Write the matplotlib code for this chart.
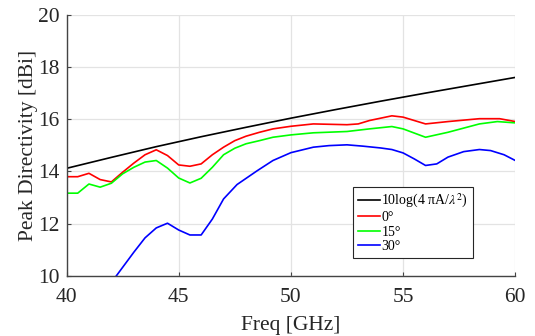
import numpy as np
import matplotlib
matplotlib.use("Agg")
import matplotlib.pyplot as plt

plt.rcParams['font.family'] = ['Liberation Serif', 'DejaVu Serif']
plt.rcParams['mathtext.fontset'] = 'stix'

# 10log(4 pi A / lambda^2) reference
freq_ref = [40, 42, 44, 46, 48, 50, 52, 54, 56, 58, 60]
dir_ref = [14.12, 14.54, 14.95, 15.33, 15.69, 16.04, 16.37, 16.69, 17.0, 17.3, 17.6]

# 0 deg
freq_0 = [40, 40.5, 41, 41.5, 42, 42.5, 43, 43.5, 44, 44.5, 45, 45.5, 46, 46.5, 47,
          47.5, 48, 48.6, 49.2, 50, 51, 52.5, 53, 53.5, 54.5, 55, 56, 57, 58.4, 59.3, 60]
dir_0 = [13.80, 13.80, 13.93, 13.69, 13.60, 13.97, 14.32, 14.64, 14.83, 14.61, 14.25,
         14.20, 14.29, 14.64, 14.93, 15.18, 15.35, 15.50, 15.63, 15.73, 15.82, 15.79,
         15.82, 15.95, 16.13, 16.08, 15.82, 15.91, 16.02, 16.02, 15.91]

# 15 deg
freq_15 = [40, 40.5, 41, 41.5, 42, 42.5, 43, 43.5, 44, 44.5, 45, 45.5, 46, 46.5, 47,
           47.5, 48, 48.6, 49.2, 50, 51, 52.5, 53.5, 54.5, 55, 56, 57, 58.4, 59.2, 60]
dir_15 = [13.17, 13.17, 13.52, 13.40, 13.55, 13.91, 14.16, 14.36, 14.42, 14.13, 13.75,
          13.56, 13.74, 14.16, 14.64, 14.89, 15.06, 15.18, 15.31, 15.40, 15.48, 15.53,
          15.63, 15.72, 15.63, 15.31, 15.50, 15.82, 15.91, 15.86]

# 30 deg
freq_30 = [42, 42.5, 43, 43.5, 44, 44.5, 45, 45.5, 46, 46.5, 47, 47.6, 48.5, 49.2, 50,
           51, 51.7, 52.5, 53.2, 54, 54.5, 55, 55.5, 56, 56.5, 57, 57.7, 58.4, 58.9,
           59.5, 60]
dir_30 = [9.75, 10.33, 10.91, 11.46, 11.84, 12.02, 11.76, 11.57, 11.57, 12.18, 12.95,
          13.5, 14.03, 14.42, 14.72, 14.93, 14.99, 15.02, 14.97, 14.90, 14.84, 14.71,
          14.48, 14.23, 14.29, 14.55, 14.76, 14.84, 14.80, 14.64, 14.42]

fig = plt.figure(figsize=(5.35, 3.36), dpi=100)
ax = fig.add_axes([66.5 / 535, 1 - 276 / 336, (515.3 - 66.5) / 535, (276 - 14.7) / 336])

lw = 1.2
ax.plot(freq_ref, dir_ref, color='k', lw=lw, label='10log(4 πA/$\\lambda^2$)')
ax.plot(freq_0, dir_0, color='#ff0000', lw=lw, label='0°')
ax.plot(freq_15, dir_15, color='#00ff00', lw=lw, label='15°')
ax.plot(freq_30, dir_30, color='#0000ff', lw=lw, label='30°')

ax.set_xlim(40, 60)
ax.set_ylim(10, 20)
ax.set_xticks([40, 45, 50, 55, 60])
ax.set_yticks([10, 12, 14, 16, 18, 20])
ax.grid(True, color='#e3e3e3', lw=0.9)
ax.set_axisbelow(True)

for s in ['top', 'right']:
    ax.spines[s].set_visible(False)
for s in ['left', 'bottom']:
    ax.spines[s].set_color('#444444')
    ax.spines[s].set_linewidth(1.0)
ax.tick_params(direction='in', length=3, color='#444444', labelsize=15.5,
               labelcolor='#262626')
ax.tick_params(axis='x', pad=9)
ax.tick_params(axis='y', pad=5)

ax.set_xlabel('Freq [GHz]', fontsize=15.5, color='#262626', labelpad=6)
ax.set_ylabel('Peak Directivity [dBi]', fontsize=15.5, color='#262626', labelpad=0)

leg = ax.legend(loc='lower left', bbox_to_anchor=(0.638, 0.069), fontsize=10,
                frameon=True, fancybox=False, framealpha=1, edgecolor='#262626',
                handlelength=1.6, handletextpad=0.1, labelspacing=0.1,
                borderpad=0.35, borderaxespad=0)
leg.get_frame().set_linewidth(0.8)

fig.savefig('out.png', dpi=100)
